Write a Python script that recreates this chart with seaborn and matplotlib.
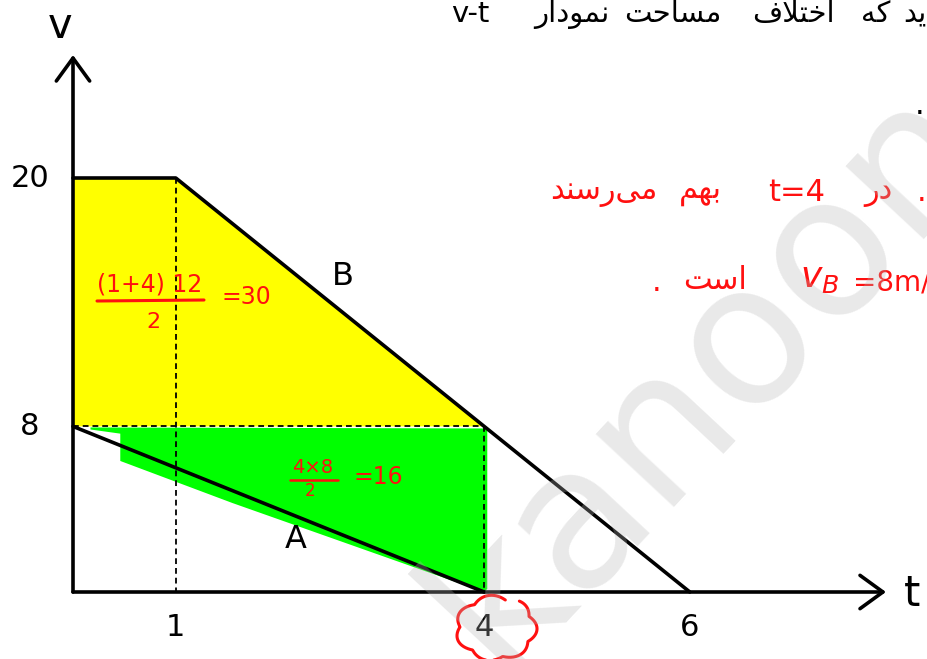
import numpy as np
import matplotlib
matplotlib.use("Agg")
import matplotlib.pyplot as plt
from matplotlib import font_manager
from matplotlib.ft2font import FT2Font
import seaborn as sns

# ---- motion data (v in m/s, t in s) ----
t_B = [0, 1, 6]
v_B = [20, 20, 0]
t_A = [0, 4]
v_A = [8, 0]
t_meet = 4
v_meet = 8
x_ticks = [1, 4, 6]
x_tick_labels = ["1", "4", "6"]
y_ticks = [20, 8]
y_tick_labels = ["20", "8"]
area_B_expr = "(1+4) 12"
area_B_den = "2"
area_B_value = "=30"
area_A_expr = "4\u00d78"
area_A_den = "2"
area_A_value = "=16"

sns.set_theme(style="white")
plt.rcParams["font.family"] = ["DejaVu Sans"]

# ---- minimal Persian shaping (presentation forms, visual order) ----
FORMS = {  # isolated, final, initial, medial
    "ا": ("\uFE8D", "\uFE8E", None, None),
    "ب": ("\uFE8F", "\uFE90", "\uFE91", "\uFE92"),
    "ت": ("\uFE95", "\uFE96", "\uFE97", "\uFE98"),
    "ح": ("\uFEA1", "\uFEA2", "\uFEA3", "\uFEA4"),
    "خ": ("\uFEA5", "\uFEA6", "\uFEA7", "\uFEA8"),
    "د": ("\uFEA9", "\uFEAA", None, None),
    "ر": ("\uFEAD", "\uFEAE", None, None),
    "س": ("\uFEB1", "\uFEB2", "\uFEB3", "\uFEB4"),
    "ف": ("\uFED1", "\uFED2", "\uFED3", "\uFED4"),
    "ک": ("\uFB8E", "\uFB8F", "\uFB90", "\uFB91"),
    "ل": ("\uFEDD", "\uFEDE", "\uFEDF", "\uFEE0"),
    "م": ("\uFEE1", "\uFEE2", "\uFEE3", "\uFEE4"),
    "ن": ("\uFEE5", "\uFEE6", "\uFEE7", "\uFEE8"),
    "ه": ("\uFEE9", "\uFEEA", "\uFEEB", "\uFEEC"),
    "و": ("\uFEED", "\uFEEE", None, None),
    "ی": ("\uFBFC", "\uFBFD", "\uFBFE", "\uFBFF"),
}
_cmap = FT2Font(font_manager.findfont("DejaVu Sans")).get_charmap()
if ord("\uFB90") not in _cmap:
    FORMS["ک"] = ("\uFED9", "\uFEDA", "\uFEDB", "\uFEDC")
if ord("\uFBFE") not in _cmap:
    FORMS["ی"] = ("\uFEEF", "\uFEF0", "\uFEF3", "\uFEF4")


def shape(word):
    chars = list(word)
    n = len(chars)
    out = []
    i = 0
    while i < n:
        c = chars[i]
        if c not in FORMS:
            if c != "\u200c":
                out.append(c)
            i += 1
            continue
        prev = chars[i - 1] if i > 0 else None
        jp = prev in FORMS and FORMS[prev][2] is not None
        if c == "ل" and i + 1 < n and chars[i + 1] == "ا":
            out.append("\uFEFC" if jp else "\uFEFB")
            i += 2
            continue
        nxt = chars[i + 1] if i + 1 < n else None
        jn = FORMS[c][2] is not None and nxt in FORMS
        iso, fin, ini, med = FORMS[c]
        out.append(med if (jp and jn) else fin if jp else ini if jn else iso)
        i += 1
    return "".join(reversed(out))


# ---- canvas: one axes covering the figure, data units mapped to pixels ----
W, H = 927, 659
X0, Y0, SX, SY = 73, 592, 102.8, 20.7
fig = plt.figure(figsize=(W / 100, H / 100), dpi=100)
ax = fig.add_axes([0, 0, 1, 1])
ax.set_xlim(-X0 / SX, (W - X0) / SX)
ax.set_ylim((Y0 - H) / SY, Y0 / SY)
ax.axis("off")


def dx(px):
    return (px - X0) / SX


def dy(py):
    return (Y0 - py) / SY


RED = "#ff1010"
BLACK = "#000000"

# ---- shaded areas ----
ax.fill([t_B[0], t_B[0], t_B[1], t_meet], [v_meet, v_B[0], v_B[1], v_meet],
        color="#ffff00", lw=0, zorder=1)
a_at = lambda t: np.interp(t, t_A, v_A)
g_t = [0.17, t_meet + 0.03, t_meet + 0.03, t_meet, 1.55, 0.46, 0.46, 0.17]
g_v = [v_meet - 0.05, v_meet - 0.1, 0.15, 0.0,
       a_at(1.55) - 0.6, a_at(0.46) - 0.75, v_meet - 0.35, v_meet - 0.15]
ax.fill(g_t, g_v, color="#00ff00", lw=0, zorder=1)

# ---- guide lines ----
dash = (0, (3.2, 2.2))
ax.plot([0, t_meet], [v_meet, v_meet], color=BLACK, lw=1.3, ls=dash, zorder=2)
ax.plot([t_B[1], t_B[1]], [v_B[1], 0], color=BLACK, lw=1.3, ls=dash, zorder=2)
ax.plot([t_meet, t_meet], [v_meet, 0], color=BLACK, lw=1.3, ls=dash, zorder=2)

# ---- motion lines ----
sns.lineplot(x=t_B, y=v_B, ax=ax, color=BLACK, lw=2.6, sort=False, zorder=3)
sns.lineplot(x=t_A, y=v_A, ax=ax, color=BLACK, lw=2.6, sort=False, zorder=3)

# ---- axes with open arrow heads ----
arrow = dict(arrowstyle="->,head_length=0.55,head_width=0.4", lw=2.6,
             color=BLACK, shrinkA=0, shrinkB=0, mutation_scale=30)
ax.annotate("", xy=(0, dy(55)), xytext=(0, 0), arrowprops=arrow, zorder=3)
ax.annotate("", xy=(dx(886), 0), xytext=(0, 0), arrowprops=arrow, zorder=3)
ax.text(dx(60), dy(26), "v", fontsize=30, ha="center", va="center", color=BLACK)
ax.text(dx(904), dy(594), "t", fontsize=30, ha="left", va="center", color=BLACK)

# ---- tick labels ----
for t, lab in zip(x_ticks, x_tick_labels):
    ax.text(t, dy(628), lab, fontsize=22, ha="center", va="center", color=BLACK)
for v, lab in zip(y_ticks, y_tick_labels):
    ax.text(dx(30), v, lab, fontsize=22, ha="center", va="center", color=BLACK)

# line names
ax.text(dx(296), dy(540), "A", fontsize=23, ha="center", va="center", color=BLACK)
ax.text(dx(343), dy(276), "B", fontsize=23, ha="center", va="center", color=BLACK)

# ---- area working ----
ax.text(dx(150), dy(284), area_B_expr, fontsize=17, ha="center", va="center", color=RED)
ax.plot([dx(97), dx(204)], [dy(301), dy(300)], color=RED, lw=2.2, zorder=4)
ax.text(dx(153), dy(322), area_B_den, fontsize=16, ha="center", va="center", color=RED)
ax.text(dx(246), dy(297), area_B_value, fontsize=17, ha="center", va="center", color=RED)

ax.text(dx(313), dy(467), area_A_expr, fontsize=14, ha="center", va="center", color=RED)
ax.plot([dx(290), dx(338)], [dy(480), dy(480)], color=RED, lw=1.8, zorder=4)
ax.text(dx(310), dy(491), area_A_den, fontsize=12, ha="center", va="center", color=RED)
ax.text(dx(378), dy(477), area_A_value, fontsize=17, ha="center", va="center", color=RED)

# cloud around the meeting time
th = np.radians(np.linspace(75, 415, 400))
f = 1 + 0.14 * np.abs(np.sin(3.5 * (th - np.radians(75))))
cx, cy, rx, ry = 496, 628, 36, 29
ax.plot(dx(cx + rx * f * np.cos(th)), dy(cy - ry * f * np.sin(th)),
        color=RED, lw=2.2, zorder=4, solid_capstyle="round")

# ---- handwritten notes ----
top = [("v-t", 470), (shape("نمودار"), 572), (shape("مساحت"), 673),
       (shape("اختلاف"), 793), (shape("که"), 876)]
for s, x in top:
    ax.text(dx(x), dy(14), s, fontsize=21, ha="center", va="center", color=BLACK)
ax.text(dx(903), dy(14), shape("ید"), fontsize=21, ha="left", va="center", color=BLACK)
ax.text(dx(920), dy(105), ".", fontsize=22, ha="center", va="center", color=BLACK)

line1 = [(shape("می\u200cرسند"), 604), (shape("بهم"), 700), ("t=4", 797), (shape("در"), 878)]
for s, x in line1:
    ax.text(dx(x), dy(192), s, fontsize=22, ha="center", va="center", color=RED)
ax.text(dx(922), dy(192), ".", fontsize=22, ha="center", va="center", color=RED)

ax.text(dx(657), dy(282), ".", fontsize=22, ha="center", va="center", color=RED)
ax.text(dx(715), dy(280), shape("است"), fontsize=22, ha="center", va="center", color=RED)
ax.text(dx(820), dy(278), r"$v_{B}$", fontsize=26, ha="center", va="center", color=RED)
ax.text(dx(853), dy(282), "=8m/s", fontsize=20, ha="left", va="center", color=RED)

# ---- watermark ----
fig.text(745 / W, 1 - 412 / H, "kanoon", rotation=47, rotation_mode="anchor",
         ha="center", va="baseline", fontsize=142, color="#b7b7b7", alpha=0.3,
         zorder=10)

fig.savefig("out.png", dpi=100)
